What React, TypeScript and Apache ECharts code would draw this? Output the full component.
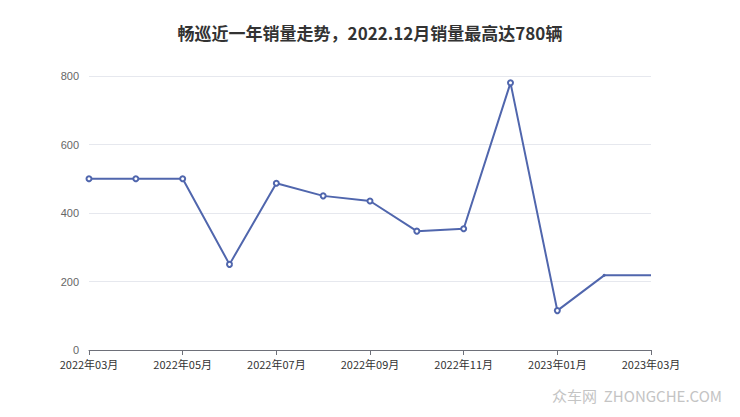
import React, { useEffect, useRef } from "react";
import * as echarts from "echarts";

const months = [
  "2022年03月", "2022年04月", "2022年05月", "2022年06月", "2022年07月",
  "2022年08月", "2022年09月", "2022年10月", "2022年11月", "2022年12月",
  "2023年01月", "2023年02月", "2023年03月",
];
const sales = [500, 500, 500, 250, 487, 450, 435, 347, 354, 780, 115, 218, 218];
const yTicks = [0, 200, 400, 600, 800];

const App = () => {
  const chartRef = useRef<HTMLDivElement>(null);

  useEffect(() => {
    if (!chartRef.current) return;
    const myChart = echarts.init(chartRef.current, null, { renderer: "svg" });

    const option = {
      animation: false,
      title: {
        text: "畅巡近一年销量走势，2022.12月销量最高达780辆",
        left: "center",
        top: 19,
        textStyle: {
          fontSize: 17,
          fontWeight: "bold",
          color: "#333",
          fontFamily: "Noto Sans CJK SC",
        },
      },
      grid: { left: 89, right: 89, top: 76, bottom: 67 },
      xAxis: {
        type: "category",
        boundaryGap: false,
        data: months,
        axisLine: { lineStyle: { color: "#6E7079" } },
        axisTick: { interval: 1, lineStyle: { color: "#6E7079" } },
        axisLabel: {
          interval: 1,
          color: "#333",
          fontSize: 11,
          margin: 8,
          fontFamily: "Noto Sans CJK SC",
        },
      },
      yAxis: {
        type: "value",
        min: yTicks[0],
        max: yTicks[yTicks.length - 1],
        interval: 200,
        axisLabel: { color: "#666", fontSize: 11, margin: 10 },
        splitLine: { lineStyle: { color: "#E6E8EE" } },
      },
      series: [
        {
          type: "line",
          data: sales.map((v, i) =>
            i >= sales.length - 2 ? { value: v, symbol: i === sales.length - 1 ? "none" : "circle", symbolSize: 3 } : v
          ),
          symbol: "emptyCircle",
          symbolSize: 5,
          itemStyle: { color: "#5066AD" },
          lineStyle: { color: "#5066AD", width: 2 },
        },
      ],
      graphic: [
        {
          type: "text",
          right: 18,
          top: 388,
          style: {
            text: "众车网  ZHONGCHE.COM",
            fill: "#C4C4C4",
            fontSize: 15,
            fontFamily: "Noto Sans CJK SC",
          },
        },
      ],
    };

    myChart.setOption(option);
    return () => {
      myChart.dispose();
    };
  }, []);

  return <div ref={chartRef} style={{ width: 740, height: 417, margin: -8 }}></div>;
};

export default App;
